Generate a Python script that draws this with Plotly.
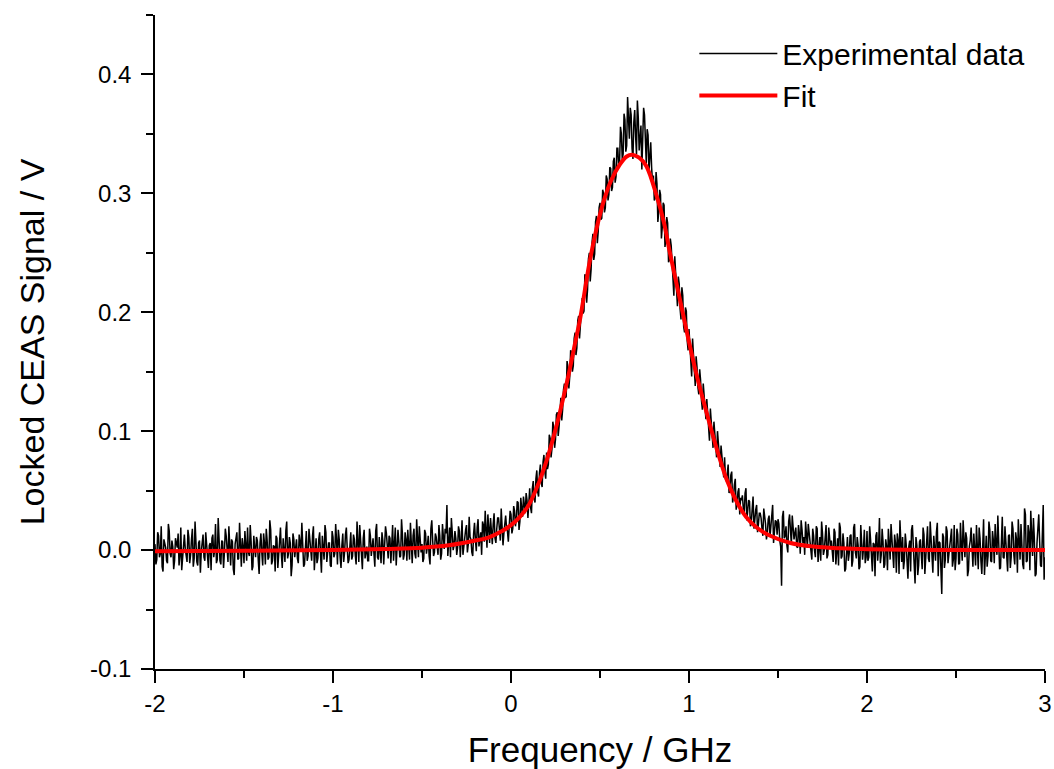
import numpy as np
import plotly.graph_objects as go

# ---- Data ----
# Experimental trace, in mV. Series A: samples at -2.000, -1.990, ..., 3.000 GHz
freq_a_start, freq_a_stop, n_a = -2.0, 3.0, 501
exp_mv_a = [
    # -2.00 .. -0.41
    5, -8, 12, -3, -14, 9, 2, -11, 16, -6,
    3, -9, 7, 14, -5, -17, 6, 1, -10, 11,
    -4, 18, -7, 2, -13, 8, -1, 13, -9, 4,
    -15, 6, 10, -6, 22, -8, 3, -12, 7, -2,
    12, -10, 0, 9, -16, 5, 15, -7, -3, 10,
    -11, 4, 19, -5, 7, -14, 2, 11, -8, 6,
    -2, 14, -12, 8, -6, 17, -9, 3, 12, -15,
    7, -4, 10, -10, 24, -3, 6, -13, 9, 1,
    -7, 13, -1, 5, -12, 16, -5, 8, -9, 20,
    3, -11, 9, -4, 12, -8, 15, -2, 6, -14,
    11, -3, 8, 17, -6, 4, -10, 13, 1, -8,
    15, -5, 9, -12, 7, 21, -4, 10, -7, 3,
    -9, 12, 5, -3, 16, -6, 11, -11, 8, 2,
    14, -7, 10, 4, -9, 19, -2, 7, -5, 13,
    -4, 9, 17, -8, 6, 12, -3, 26, -6, 10,
    5, -7, 14, 3, -5, 18, 8, -2, 11, -4,
    # -0.40 .. 1.79
    12, -3, 9, 18, 38, 7, -6, 15, 4, 10,
    2, 16, 8, -4, 13, 21, 5, 11, -2, 14,
    9, 19, 3, 15, 24, 7, 12, 30, 6, 17,
    22, 10, 18, 27, 8, 20, 14, 29, 16, 24,
    30, 18, 33, 26, 40, 24, 35, 45, 31, 42,
    44, 36, 52, 43, 60, 49, 65, 56, 74, 66,
    82, 72, 94, 85, 103, 93, 116, 104, 128, 118,
    140, 129, 153, 146, 166, 155, 183, 170, 197, 190,
    212, 201, 229, 219, 250, 236, 266, 249, 281, 268,
    292, 279, 300, 288, 312, 299, 321, 305, 330, 314,
    338, 326, 350, 333, 362, 340, 355, 372, 338, 360,
    348, 378, 336, 357, 341, 366, 325, 349, 330, 322,
    315, 296, 308, 284, 299, 272, 290, 262, 275, 244,
    256, 231, 247, 218, 230, 203, 221, 188, 204, 176,
    186, 162, 178, 150, 163, 137, 152, 126, 140, 118,
    127, 104, 119, 95, 108, 84, 100, 75, 88, 66,
    78, 58, 72, 51, 66, 45, 60, 39, 52, 44,
    46, 30, 52, 33, 41, 24, 45, 29, 38, 22,
    31, 18, 35, 22, 14, 29, 20, 38, 16, 24,
    26, 8, -30, 33, 12, 4, 24, 17, 29, 9,
    19, 2, 14, 25, 6, -4, 16, 22, 8, -8,
    12, -6, 18, 3, -9, 14, 0, 21, -4, 9,
    # 1.80 .. 3.00
    8, -10, 15, 2, -13, 19, -5, 6, -16, 11,
    -3, 13, -9, 22, -7, 4, -14, 10, 1, -11,
    16, -6, 9, -18, 5, 12, -9, 27, -4, 7,
    -12, 3, 18, -8, 10, -15, 6, 14, -20, 2,
    11, -9, 5, -24, 8, 17, -6, -28, 4, -13,
    9, -16, 13, -3, 20, -10, 7, -19, 2, 15,
    -22, 6, -37, 11, -8, 16, -4, 9, -14, 21,
    -7, 13, -11, 4, 25, -6, 10, -17, 8, -2,
    14, -13, 6, 19, -9, 3, -21, 12, -5, 17,
    -10, 8, 22, -4, 11, -15, 28, -7, 5, -18,
    13, -6, 18, -12, 9, 26, -8, 4, -16, 30,
    -9, 15, 33, -5, 10, -20, 24, 7, -14, 38,
    -6,
]

# Series B: samples at -1.995, -1.985, ..., 2.995 GHz
freq_b_start, freq_b_stop, n_b = -1.995, 2.995, 500
exp_mv_b = [
    # -1.995 .. -0.405
    -12, 15, -6, 20, -18, 4, -9, 22, -3, 8,
    -16, 10, 2, -13, 19, -7, 13, -4, 17, -11,
    9, -14, 24, -10, 6, -19, 11, -6, 15, -12,
    4, -17, 13, 0, -11, 27, -9, 8, -15, 18,
    -5, 20, -13, 7, -21, 10, -8, 23, -14, 3,
    16, -9, -2, 21, -17, 12, -6, 8, -20, 14,
    -13, 6, 18, -8, 25, -12, 4, -18, 10, -4,
    19, -15, 2, 16, -7, 11, -22, 14, -6, 9,
    -11, 4, 23, -14, 8, -9, 18, -3, 12, -17,
    10, -7, 15, -19, 3, 21, -10, 6, -13, 16,
    -6, 22, -12, 9, -15, 14, -2, 19, -11, 5,
    -8, 13, -4, 24, -10, 6, -16, 17, 0, -9,
    18, -5, 10, -14, 22, -8, 3, 15, -12, 20,
    -3, 12, -11, 21, 5, -13, 17, -6, 26, -8,
    15, -9, 6, 23, -11, 18, -7, 4, 20, -2,
    -10, 17, -3, 12, -12, 25, -5, 14, -1, 21,
    # -0.395 .. 1.795
    -8, 22, 1, 14, -5, 19, 27, 0, 16, -4,
    20, -6, 25, 3, 17, -2, 28, 9, -5, 23,
    -1, 26, 13, -4, 21, 33, 2, 18, 27, 5,
    31, 6, 27, 12, 35, 4, 26, 19, 7, 33,
    14, 37, 20, 41, 17, 44, 28, 36, 48, 27,
    52, 31, 58, 40, 67, 45, 72, 53, 80, 60,
    68, 97, 78, 108, 86, 114, 96, 124, 109, 135,
    128, 159, 136, 168, 150, 178, 164, 193, 178, 210,
    199, 232, 208, 245, 226, 258, 244, 276, 258, 288,
    278, 303, 284, 315, 294, 322, 302, 327, 309, 338,
    322, 356, 329, 367, 335, 381, 346, 366, 329, 370,
    333, 364, 345, 320, 372, 333, 354, 318, 343, 309,
    294, 318, 276, 303, 262, 292, 255, 280, 242, 262,
    240, 214, 236, 205, 224, 194, 214, 183, 201, 168,
    169, 146, 165, 138, 154, 131, 143, 118, 132, 110,
    111, 92, 110, 86, 97, 78, 90, 70, 80, 61,
    60, 70, 48, 63, 40, 55, 34, 49, 30, 42,
    35, 48, 25, 42, 20, 37, 18, 34, 15, 31,
    27, 12, 30, 9, 26, 11, 32, 6, 25, 13,
    22, 3, 28, 10, 20, -2, 30, 5, 19, 14,
    3, 21, -3, 17, 11, 24, 2, 13, -6, 18,
    0, 20, -10, 11, 24, -4, 15, -7, 19, 2,
    # 1.805 .. 2.995
    -5, 18, -12, 10, 23, -7, 14, -18, 4, -9,
    12, -14, 19, -2, 11, -16, 21, -8, 17, -6,
    -9, 20, -13, 6, -22, 15, 3, -11, 18, -15,
    9, -17, 6, 22, -5, 13, -19, 8, 25, -10,
    -16, 14, -8, 3, -18, 21, -12, 11, -21, 7,
    -4, 19, -20, 8, -7, 24, -14, 12, -9, 23,
    7, -29, 14, -15, 20, -11, 5, 18, -8, -17,
    18, -12, 23, -9, 6, 15, -22, 3, 19, -14,
    -7, 21, -16, 10, -20, 26, -3, -14, 24, -9,
    16, -11, 5, 29, -16, 19, -6, 20, -13, 12,
    -15, 24, -4, 15, -19, 8, 22, -12, 35, -10,
    21, -17, 12, 27, -22, 6, 30, -13, 19, -25,
]

# Fit curve (GHz, V)
fit_x = [-2.0, -1.5, -1.0, -0.7, -0.5, -0.35, -0.2, -0.12, -0.05, 0.0, 0.05, 0.10,
         0.16, 0.21, 0.26, 0.30, 0.33, 0.36, 0.39, 0.44, 0.48, 0.52, 0.56, 0.61,
         0.65, 0.68, 0.72, 0.76, 0.82, 0.86, 0.89, 0.93, 0.97, 1.00, 1.04, 1.08,
         1.12, 1.16, 1.21, 1.26, 1.32, 1.38, 1.45, 1.57, 1.70, 1.85, 2.0, 2.5, 3.0]
fit_y = [-0.001, -0.0005, 0.0, 0.001, 0.002, 0.004, 0.008, 0.011, 0.016, 0.021, 0.028, 0.038,
         0.058, 0.080, 0.107, 0.132, 0.152, 0.174, 0.196, 0.241, 0.270, 0.293, 0.310, 0.324,
         0.331, 0.3325, 0.330, 0.323, 0.297, 0.275, 0.252, 0.224, 0.196, 0.175, 0.149, 0.126,
         0.104, 0.083, 0.060, 0.043, 0.028, 0.019, 0.0125, 0.006, 0.003, 0.0015, 0.0007, 0.0, 0.0]

x_ticks = [-2, -1, 0, 1, 2, 3]
y_ticks = [-0.1, 0.0, 0.1, 0.2, 0.3, 0.4]

# merge the two sample sets in frequency order
freq_a = np.linspace(freq_a_start, freq_a_stop, n_a)
freq_b = np.linspace(freq_b_start, freq_b_stop, n_b)
freq = np.concatenate([freq_a, freq_b])
signal = np.concatenate([np.array(exp_mv_a, float), np.array(exp_mv_b, float)]) / 1000.0
order = np.argsort(freq)
freq, signal = freq[order], signal[order]

FONT = "Liberation Sans, Arial, sans-serif"

fig = go.Figure()
fig.add_trace(go.Scatter(
    x=freq, y=signal, mode="lines", name="Experimental data",
    line=dict(color="black", width=1.5), legendgroup="a"))
fig.add_trace(go.Scatter(
    x=fit_x, y=fit_y, mode="lines", name="Fit", line_shape="spline",
    line=dict(color="#ff0000", width=4), legendgroup="b"))

axis_common = dict(
    showline=True, linecolor="black", linewidth=1.5, mirror=False,
    ticks="outside", ticklen=12, tickwidth=1.5, tickcolor="black",
    showgrid=False, zeroline=False, automargin=False,
    tickfont=dict(family=FONT, size=24, color="black"),
)
minor_common = dict(ticklen=7, tickwidth=1.5, tickcolor="black", ticks="outside")

fig.update_layout(
    width=1054, height=769,
    margin=dict(l=155, r=9, t=15, b=100),
    paper_bgcolor="white", plot_bgcolor="white",
    font=dict(family=FONT, color="black"),
    xaxis=dict(range=[-2, 3], tickvals=x_ticks, ticktext=[str(v) for v in x_ticks],
               minor=dict(dtick=0.5, **minor_common),
               title=dict(text="Frequency / GHz", font=dict(family=FONT, size=35), standoff=30),
               **axis_common),
    yaxis=dict(range=[-0.1, 0.45], tickvals=y_ticks, ticktext=[f"{v:.1f}" for v in y_ticks],
               minor=dict(dtick=0.05, **minor_common),
               ticklabelstandoff=5,
               title=dict(text="Locked CEAS Signal / V", font=dict(family=FONT, size=34), standoff=35),
               **axis_common),
    legend=dict(x=0.606, y=0.981, xanchor="left", yanchor="top",
                font=dict(family=FONT, size=30, color="black"),
                bgcolor="rgba(0,0,0,0)", itemwidth=78, tracegroupgap=0),
    showlegend=True,
)

fig.write_html("out.html")
